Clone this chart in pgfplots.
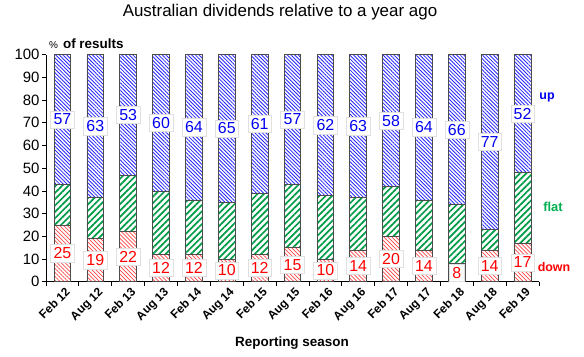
\documentclass[border=0pt]{standalone}
\usepackage{fontspec}
\setmainfont{Liberation Sans}
\usepackage{pgfplots}
\usepackage{pgfplotstable}
\pgfplotsset{compat=1.18}
\usetikzlibrary{patterns.meta}
\definecolor{upblue}{RGB}{40,40,255}
\definecolor{flatgreen}{RGB}{0,155,70}
\definecolor{downred}{RGB}{255,70,70}
\definecolor{lblgreen}{RGB}{0,176,80}
\definecolor{lblblue}{RGB}{0,0,240}
\definecolor{lblred}{RGB}{255,0,0}

\pgfplotstableread{
x up flat down upmid downmid
0 57 18 25 71.5 12.5
1 63 18 19 68.5 9.5
2 53 25 22 73.5 11
3 60 28 12 70 6
4 64 24 12 68 6
5 65 25 10 67.5 5
6 61 27 12 69.5 6
7 57 28 15 71.5 7.5
8 62 28 10 69 5
9 63 23 14 68.5 7
10 58 22 20 71 10
11 64 22 14 68 7
12 66 26 8 67 4
13 77 9 14 61.5 7
14 52 31 17 74 8.5
}\datatable

\begin{document}
\begin{tikzpicture}[x=1bp,y=1bp]
\path[use as bounding box] (-46,-74.3) rectangle (538,281.7);
\begin{axis}[
  at={(0,0)}, anchor=south west,
  scale only axis, width=493bp, height=227bp,
  ybar stacked, bar width=16.7bp,
  xmin=-0.5, xmax=14.5, ymin=0, ymax=100,
  axis lines*=left,
  axis line style={black, line width=0.8bp},
  tick align=outside,
  major tick length=0pt,
  minor tick length=4bp,
  tick style={black, line width=0.8bp},
  ytick={0,10,...,100},
  minor ytick={0,10,...,100},
  xtick={0,1,...,14},
  minor xtick={-0.5,0.5,...,14.5},
  xticklabels={Feb 12,Aug 12,Feb 13,Aug 13,Feb 14,Aug 14,Feb 15,Aug 15,Feb 16,Aug 16,Feb 17,Aug 17,Feb 18,Aug 18,Feb 19},
  x tick label style={rotate=45, anchor=north east, font=\bfseries\fontsize{12}{12}\selectfont, inner sep=2bp, yshift=-3bp},
  y tick label style={font=\fontsize{15}{15}\selectfont, xshift=-3bp},
  /pgf/number format/assume math mode=true,
  clip=false,
]
\addplot[draw=black!70, line width=0.8bp, pattern={Lines[angle=-45,distance=2.8bp,line width=0.7bp]}, pattern color=downred] table[x=x,y=down]{\datatable};
\addplot[draw=black!70, line width=0.8bp, pattern={Lines[angle=45,distance=4.5bp,line width=1.7bp]}, pattern color=flatgreen] table[x=x,y=flat]{\datatable};
\addplot[draw=black!70, line width=0.8bp, pattern={Lines[angle=-45,distance=2.6bp,line width=0.85bp]}, pattern color=upblue] table[x=x,y=up]{\datatable};
\end{axis}
\begin{axis}[
  at={(0,0)}, anchor=south west,
  scale only axis, width=493bp, height=227bp,
  xmin=-0.5, xmax=14.5, ymin=0, ymax=100,
  hide axis, clip=false,
]
\addplot[draw=none, mark=none, nodes near coords, point meta=explicit symbolic,
  nodes near coords style={anchor=center, fill=white, draw=black!12, text=lblblue, font=\fontsize{16}{16}\selectfont, inner xsep=3bp, inner ysep=3bp}]
  table[x=x, y=upmid, meta=up]{\datatable};
\addplot[draw=none, mark=none, nodes near coords, point meta=explicit symbolic,
  nodes near coords style={anchor=center, fill=white, draw=black!12, text=lblred, font=\fontsize{16}{16}\selectfont, inner xsep=3bp, inner ysep=3bp}]
  table[x=x, y=downmid, meta=down]{\datatable};
\end{axis}
\node[font=\fontsize{17}{17}\selectfont] at (234,269.7) {Australian dividends relative to a year ago};
\node[anchor=west, inner sep=0pt] at (3,237.7) {{\fontsize{10}{10}\selectfont\%}\hspace{5bp}{\bfseries\fontsize{13.5}{13.5}\selectfont of results}};
\node[font=\bfseries\fontsize{13.5}{13.5}\selectfont] at (246,-61.3) {Reporting season};
\node[font=\bfseries\fontsize{12.5}{12.5}\selectfont, text=lblblue] at (501,184.7) {up};
\node[font=\bfseries\fontsize{13}{13}\selectfont, text=lblgreen] at (507,74.7) {flat};
\node[font=\bfseries\fontsize{12.5}{12.5}\selectfont, text=lblred] at (508,15) {down};
\end{tikzpicture}
\end{document}
